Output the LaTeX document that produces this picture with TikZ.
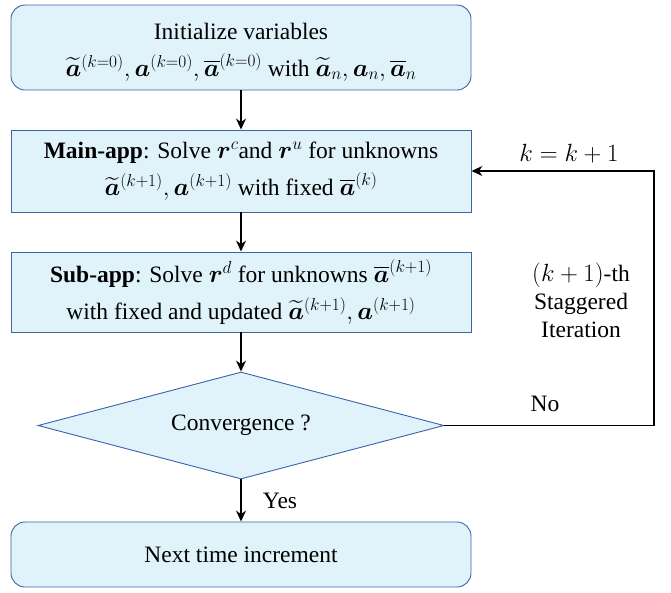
\documentclass[tikz,border=0pt]{standalone}
\usepackage{amsmath,bm}
\usepackage{fontspec}
\setmainfont{Liberation Serif}
\usetikzlibrary{shapes.geometric,arrows.meta}
\definecolor{boxfill}{HTML}{E0F3FB}
\definecolor{boxline}{HTML}{3A64A8}
\begin{document}
\begin{tikzpicture}[x=1pt,y=-1pt,
  every node/.style={font=\fontsize{23.5}{37}\selectfont},
  flowbox/.style={draw=boxline,fill=boxfill,line width=0.9pt,minimum width=460pt,align=center,inner sep=0pt},
  roundbox/.style={flowbox,rounded corners=14pt},
  decision/.style={diamond,shape aspect=3.8,draw=boxline,fill=boxfill,line width=0.9pt,minimum width=406pt,minimum height=107pt,inner sep=0pt},
  conn/.style={line width=1.3pt,-{Stealth[length=11pt,width=10pt]}},
  lbl/.style={align=center,inner sep=0pt}]
\useasboundingbox (0,0) rectangle (671,592);
\node[roundbox,minimum height=85pt] (init) at (241,47.5) {};
\node[lbl] (inittext) at (241,52)
  {Initialize variables\\ $\widetilde{\bm a}^{(k=0)},\bm a^{(k=0)},\overline{\bm a}^{(k=0)}$ with $\widetilde{\bm a}_n,\bm a_n,\overline{\bm a}_n$};
\node[flowbox,minimum height=82pt] (main) at (241,171)
  {\textbf{Main-app}: Solve $\bm r^c$and $\bm r^u$ for unknowns\\ $\widetilde{\bm a}^{(k+1)},\bm a^{(k+1)}$ with fixed $\overline{\bm a}^{(k)}$};
\node[flowbox,minimum height=80pt] (sub) at (241,292)
  {\textbf{Sub-app}: Solve $\bm r^d$ for unknowns $\overline{\bm a}^{(k+1)}$\\ with fixed and updated $\widetilde{\bm a}^{(k+1)},\bm a^{(k+1)}$};
\node[decision] (conv) at (241,425.5) {Convergence ?};
\node[roundbox,minimum height=65pt] (next) at (241,554.5) {Next time increment};
\coordinate (c1) at (654,425.5);
\coordinate (c2) at (654,171);
\draw[conn] (init) -- (main);
\draw[conn] (main) -- (sub);
\draw[conn] (sub) -- (conv);
\draw[conn] (conv) -- (next);
\draw[conn] (conv.east) -- (c1) -- (c2) -- (main.east);
\node[lbl] (yes) at (280,501) {Yes};
\node[lbl] (kk) at (569,154) {$k=k+1$};
\node[lbl,font=\fontsize{23.5}{28}\selectfont] (stag) at (581,300) {$(k+1)$-th\\Staggered\\Iteration};
\node[lbl] (no) at (545,404) {No};
\end{tikzpicture}
\end{document}
